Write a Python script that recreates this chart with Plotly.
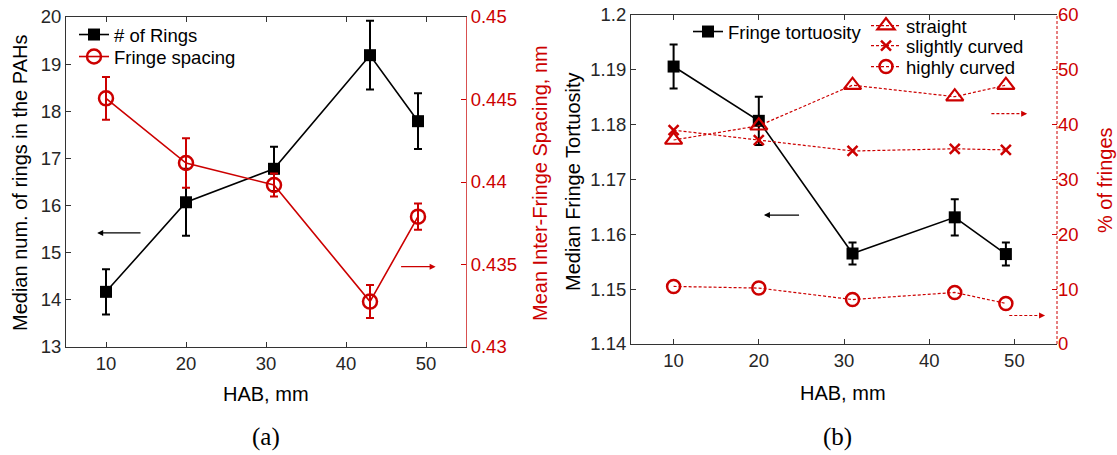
import plotly.graph_objects as go

# ---------------- data ----------------
hab = [10, 20, 31, 43, 49]
rings = [14.17, 16.07, 16.78, 19.19, 17.79]
rings_err = [0.48, 0.71, 0.47, 0.73, 0.59]
spacing = [0.44507, 0.44115, 0.43982, 0.43275, 0.43790]
spacing_err = [0.0013, 0.0015, 0.0007, 0.0010, 0.0008]
tort = [1.1906, 1.1807, 1.1565, 1.1631, 1.1564]
tort_err = [0.0040, 0.0044, 0.0020, 0.0033, 0.0021]
straight = [37.2, 39.8, 47.2, 45.1, 47.2]
slightly = [39.0, 37.2, 35.2, 35.6, 35.4]
highly = [10.5, 10.2, 8.1, 9.4, 7.4]

RED = "#cc0000"
BLK = "#000000"
AX = "#333333"
FONT = "Liberation Sans, Arial, sans-serif"
FS = 18.5
FT = 20

fig = go.Figure()

# ---- panel (a) ----
fig.add_trace(go.Scatter(
    x=hab, y=rings, name="# of Rings", xaxis="x", yaxis="y", legend="legend",
    mode="lines+markers", line=dict(color=BLK, width=1.6),
    marker=dict(symbol="square", size=12, color=BLK),
    error_y=dict(type="data", array=rings_err, color=BLK, thickness=2, width=4)))
fig.add_trace(go.Scatter(
    x=hab, y=spacing, name="Fringe spacing", xaxis="x", yaxis="y2", legend="legend2",
    mode="lines+markers", line=dict(color=RED, width=1.6),
    marker=dict(symbol="circle-open", size=14, color=RED, line=dict(width=2.5)),
    error_y=dict(type="data", array=spacing_err, color=RED, thickness=2, width=4)))

# ---- panel (b) ----
fig.add_trace(go.Scatter(
    x=hab, y=straight, name="straight", xaxis="x2", yaxis="y4", legend="legend4",
    mode="lines+markers", line=dict(color=RED, width=1.2, dash="3px,2px"),
    marker=dict(symbol="triangle-up-open", size=15, color=RED, line=dict(width=2.2))))
fig.add_trace(go.Scatter(
    x=hab, y=slightly, name="slightly curved", xaxis="x2", yaxis="y4", legend="legend5",
    mode="lines+markers", line=dict(color=RED, width=1.2, dash="3px,2px"),
    marker=dict(symbol="x-thin-open", size=10, color=RED, line=dict(width=2.5, color=RED))))
fig.add_trace(go.Scatter(
    x=hab, y=highly, name="highly curved", xaxis="x2", yaxis="y4", legend="legend6",
    mode="lines+markers", line=dict(color=RED, width=1.2, dash="3px,2px"),
    marker=dict(symbol="circle-open", size=13, color=RED, line=dict(width=2.5))))
fig.add_trace(go.Scatter(
    x=hab, y=tort, name="Fringe tortuosity", xaxis="x2", yaxis="y3", legend="legend3",
    mode="lines+markers", line=dict(color=BLK, width=1.6),
    marker=dict(symbol="square", size=12, color=BLK),
    error_y=dict(type="data", array=tort_err, color=BLK, thickness=2, width=4)))

# domains
W, H = 1117, 455
XA = [66 / W, 466 / W]
YA = [1 - 347 / H, 1 - 17 / H]
XB = [631 / W, 1057 / W]
YB = [1 - 344 / H, 1 - 15 / H]

tickfont = dict(family=FONT, size=FS, color="#262626")
redfont = dict(family=FONT, size=FS, color=RED)

def xax(domain, anchor):
    return dict(domain=domain, anchor=anchor, range=[5, 55], tickvals=[10, 20, 30, 40, 50],
                ticks="inside", ticklen=5, tickcolor=AX, showline=True, linecolor=AX,
                linewidth=1, mirror="ticks", showgrid=False, zeroline=False,
                tickfont=tickfont, automargin=False)

def leg(px, py):
    return dict(x=px / W, y=1 - py / H, xanchor="left", yanchor="top",
                bgcolor="rgba(0,0,0,0)", font=dict(family=FONT, size=FS, color="#000"),
                tracegroupgap=0, itemwidth=30)

fig.update_layout(
    width=W, height=H, margin=dict(l=0, r=0, t=0, b=0, autoexpand=False),
    paper_bgcolor="white", plot_bgcolor="white",
    font=dict(family=FONT, size=FS, color="#262626"),
    xaxis=xax(XA, "y"),
    yaxis=dict(domain=YA, anchor="x", range=[13, 20], dtick=1, ticks="inside", ticklen=5,
               tickcolor=AX, showline=True, linecolor=AX, linewidth=1, showgrid=False,
               zeroline=False, tickfont=tickfont, automargin=False),
    yaxis2=dict(overlaying="y", side="right", anchor="x", range=[0.43, 0.45],
                tickvals=[0.43, 0.435, 0.44, 0.445, 0.45],
                ticktext=["0.43", "0.435", "0.44", "0.445", "0.45"],
                ticks="inside", ticklen=5, tickcolor=RED, showline=True, linecolor="#d85050",
                linewidth=1, showgrid=False, zeroline=False, tickfont=redfont,
                automargin=False),
    xaxis2=xax(XB, "y3"),
    yaxis3=dict(domain=YB, anchor="x2", range=[1.14, 1.2], ticks="inside",
                ticklen=5, tickcolor=AX, showline=True, linecolor=AX, linewidth=1,
                showgrid=False, zeroline=False, tickfont=tickfont, automargin=False,
                tickvals=[1.14, 1.15, 1.16, 1.17, 1.18, 1.19, 1.2],
                ticktext=["1.14", "1.15", "1.16", "1.17", "1.18", "1.19", "1.2"]),
    yaxis4=dict(overlaying="y3", side="right", anchor="x2", range=[0, 60], dtick=10,
                ticks="inside", ticklen=5, tickcolor=RED, showline=False,
                showgrid=False, zeroline=False, tickfont=redfont, automargin=False),
    legend=leg(74, 16),
    legend2=leg(74, 38),
    legend3=leg(688, 13),
    legend4=leg(866, 7),
    legend5=leg(866, 27),
    legend6=leg(866, 48),
    showlegend=True,
)

# dashed right axis line for panel (b)
fig.add_shape(type="line", xref="paper", yref="paper", x0=XB[1], x1=XB[1], y0=YB[0], y1=YB[1],
              line=dict(color=RED, width=1, dash="3px,2px"))

ann = []
def txt(s, px, py, color="#000", angle=0, family=FONT, size=FT):
    ann.append(dict(text=s, x=px / W, y=1 - py / H, xref="paper", yref="paper",
                    xanchor="center", yanchor="middle",
                    textangle=angle, showarrow=False,
                    font=dict(family=family, size=size, color=color)))

# axis titles
txt("Median num. of rings in the PAHs", 20, 183, angle=-90)
txt("Mean Inter-Fringe Spacing, nm", 540, 183, color=RED, angle=-90)
txt("HAB, mm", 266, 394)
txt("Median Fringe Tortuosity", 573, 182, angle=-90)
txt("% of fringes", 1105, 180, color=RED, angle=-90)
txt("HAB, mm", 843, 393)
# captions
txt("(a)", 266, 437, family="Liberation Serif, serif", size=25)
txt("(b)", 837, 437, family="Liberation Serif, serif", size=25)

# arrows (solid)
ann.append(dict(x=8.9, y=15.42, ax=14.5, ay=15.42, xref="x", yref="y", axref="x", ayref="y",
                text="", showarrow=True, arrowhead=2, arrowsize=1, arrowwidth=1.2,
                arrowcolor=BLK))
ann.append(dict(x=51.2, y=0.43487, ax=46.7, ay=0.43487, xref="x", yref="y2", axref="x",
                ayref="y2", text="", showarrow=True, arrowhead=2, arrowsize=1,
                arrowwidth=1.2, arrowcolor=RED))
ann.append(dict(x=20.6, y=1.16352, ax=24.9, ay=1.16352, xref="x2", yref="y3", axref="x2",
                ayref="y3", text="", showarrow=True, arrowhead=2, arrowsize=1,
                arrowwidth=1.2, arrowcolor=BLK))
# dashed arrows: dashed shaft + short arrow head
for (xs, xe, yv) in [(47.3, 51.5, 42.0), (49.4, 53.6, 5.2)]:
    fig.add_shape(type="line", xref="x2", yref="y4", x0=xs, x1=xe - 0.6, y0=yv, y1=yv,
                  line=dict(color=RED, width=1.2, dash="3px,2px"))
    ann.append(dict(x=xe, y=yv, ax=xe - 0.7, ay=yv, xref="x2", yref="y4", axref="x2",
                    ayref="y4", text="", showarrow=True, arrowhead=2, arrowsize=1,
                    arrowwidth=1.2, arrowcolor=RED))

fig.update_layout(annotations=ann)
fig.write_html("out.html")
